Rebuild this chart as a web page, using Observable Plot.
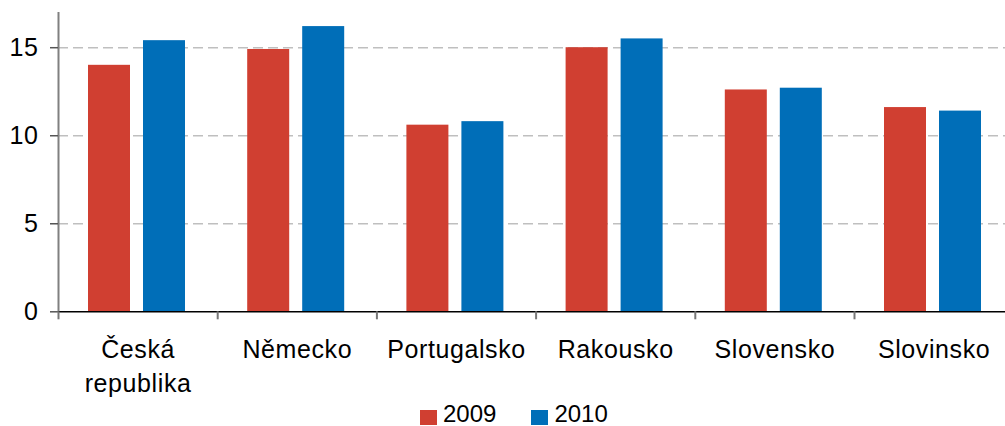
<!DOCTYPE html>
<html>
<head>
<meta charset="utf-8">
<script src="https://cdn.jsdelivr.net/npm/d3@7"></script>
<script src="https://cdn.jsdelivr.net/npm/@observablehq/plot@0.6"></script>
<style>
  html, body { margin: 0; padding: 0; background: #fff; overflow: hidden; width: 1005px; height: 426px; }
  #wrap { position: relative; width: 1005px; height: 426px; }
  #legend { position: absolute; left: 420px; top: 402px; display: flex; align-items: flex-start;
            font-family: "Liberation Sans", Arial, sans-serif; font-size: 24px; line-height: 24px; color: #000; }
  #legend .item { display: flex; align-items: flex-start; margin-right: 35px; }
  #legend .sw { width: 17px; height: 15px; margin-top: 8px; margin-right: 6px; }
</style>
</head>
<body>
<div id="wrap"><div id="chart"></div><div id="legend"></div></div>
<script>
const countries = ["Česká republika", "Německo", "Portugalsko", "Rakousko", "Slovensko", "Slovinsko"];
const countryLabels = ["Česká\nrepublika", "Německo", "Portugalsko", "Rakousko", "Slovensko", "Slovinsko"];
const years = ["2009", "2010"];
const colors = ["#D03F31", "#006EB8"];
const values2009 = [14.0, 14.9, 10.6, 15.0, 12.6, 11.6];
const values2010 = [15.4, 16.2, 10.8, 15.5, 12.7, 11.4];
const yTicks = [0, 5, 10, 15];

const rows = countries.flatMap((c, i) => [
  {country: c, year: "2009", value: values2009[i]},
  {country: c, year: "2010", value: values2010[i]}
]);

const W = 1005, H = 426;
const x0 = 58, x1 = 1013.2, yTop = 12, yBase = 311.3;
const bw = (x1 - x0) / countries.length;

const chart = Plot.plot({
  width: W,
  height: H,
  marginLeft: x0,
  marginRight: 0,
  marginTop: yTop,
  marginBottom: H - yBase,
  style: {fontFamily: "'Liberation Sans', Arial, sans-serif", fontSize: "24px", color: "#000", background: "#fff", overflow: "hidden"},
  x: {domain: countries, range: [x0, x1], padding: 0, round: false, label: null},
  y: {domain: [0, 17], range: [yBase, yTop], label: null},
  color: {domain: years, range: colors},
  marks: [
    Plot.gridY(yTicks.filter(v => v > 0), {stroke: "#bfbfbf", strokeOpacity: 1, strokeWidth: 1.5, strokeDasharray: "10,5"}),
    Plot.barY(rows.filter(d => d.year === "2009"), {x: "country", y: "value", fill: "year", insetLeft: 30, insetRight: bw - 72}),
    Plot.barY(rows.filter(d => d.year === "2010"), {x: "country", y: "value", fill: "year", insetLeft: 85, insetRight: bw - 127}),
    Plot.ruleY([0], {stroke: "#000", strokeWidth: 1.5}),
    Plot.ruleX([countries[0]], {dx: -bw / 2, stroke: "#808080", strokeWidth: 2}),
    Plot.axisY({ticks: yTicks, tickSize: 8, tickFormat: () => "", stroke: "#555", strokeWidth: 1.5, label: null}),
    Plot.text(yTicks, {y: d => d, text: d => String(d), frameAnchor: "left", textAnchor: "end", dx: -20, fontSize: 25, fill: "#000"}),
    Plot.axisX({tickSize: 8, tickFormat: () => "", dx: -bw / 2, stroke: "#777", strokeWidth: 2, label: null}),
    Plot.text(countries, {x: d => d, text: (d, i) => countryLabels[i], frameAnchor: "bottom", lineAnchor: "top", dy: 22, fontSize: 25, lineHeight: 1.36, fill: "#000"})
  ]
});
document.getElementById("chart").appendChild(chart);

d3.select(chart).selectAll("g[aria-label='text'] text").style("letter-spacing", "0.6px");

const legend = document.getElementById("legend");
years.forEach((y, i) => {
  const item = document.createElement("div");
  item.className = "item";
  const sw = document.createElement("div");
  sw.className = "sw";
  sw.style.background = colors[i];
  const t = document.createElement("span");
  t.textContent = y;
  item.appendChild(sw);
  item.appendChild(t);
  legend.appendChild(item);
});
</script>
</body>
</html>
